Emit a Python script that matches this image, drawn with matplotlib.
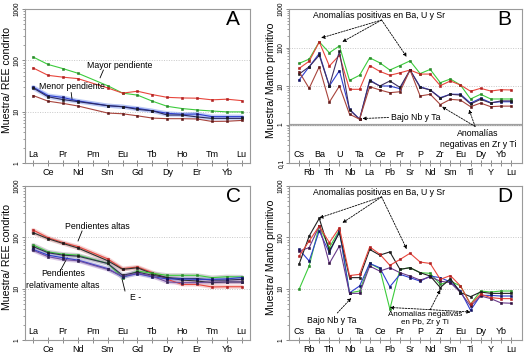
import matplotlib
matplotlib.use("Agg")
import matplotlib.pyplot as plt
from matplotlib.ticker import LogLocator, NullFormatter, FixedLocator
import numpy as np

plt.rcParams['font.family'] = ['Liberation Sans', 'DejaVu Sans']

# ---------------- data ----------------
ree = ["La", "Ce", "Pr", "Nd", "Pm", "Sm", "Eu", "Gd", "Tb", "Dy", "Ho", "Er", "Tm", "Yb", "Lu"]
spider = ["Cs", "Rb", "Ba", "Th", "U", "Nb", "Ta", "La", "Ce", "Pb", "Pr", "Sr", "P", "Nd",
          "Zr", "Sm", "Eu", "Ti", "Dy", "Y", "Yb", "Lu"]

# Panel A (REE, chondrite) - Pm has no value
A_green = [116, 83, 69, 56, None, 32, 23, 21, 16, 12.7, 11.5, 10.8, 10.3, 9.9, 9.9]
A_red = [71, 51, 47, 44, None, 29, 23, 25, 21.5, 19, 18.5, 18.3, 17, 17.5, 16.4]
A_blue = [30, 20.6, 18.9, 16.2, None, 13.1, 12.5, 11.6, 10.4, 9.3, 8.9, 9.0, 8.0, 8.0, 8.0]
A_black = [29, 19.5, 17.2, 15.7, None, 13.1, 12.5, 11.1, 10.4, 8.6, 8.6, 7.9, 7.4, 7.4, 7.4]
A_brown = [20.6, 16, 14.5, 12.9, None, 9.4, 9.1, 8.3, 7.5, 7.3, 7.3, 7.2, 6.45, 6.5, 6.75]

# Panel B (spider, primitive mantle)
B_green = [38.6, 50, 140, 73, 110, 14, 19, 54, 40, 26, 34, 45, 21, 27, 12.2, 15.2, 10.6, 4.6, 6.1, 4.6, 4.6, 4.6]
B_red = [28.6, 44, 140, 33, 63, 8.2, 8.2, 34, 24, 19, 22, 26, 20.4, 20.4, 10.2, 13.5, 10.6, 7.3, 8.7, 7.4, 8.0, 7.9]
B_blue = [14.3, 31.6, 70, 10, 25, 2.5, 1.37, 14.3, 10, 10, 8.5, 26, 9.6, 7.9, 5.0, 6.1, 6.1, 3.6, 4.8, 3.7, 3.9, 3.9]
B_black = [20.4, 31.6, 63, 10, 80, 2.4, 1.37, 13.7, 10, 13.5, 9.2, 26, 9.2, 7.9, 4.8, 6.1, 5.8, 3.4, 4.5, 3.6, 4.1, 4.1]
B_brown = [23.5, 8.7, 31.6, 3.8, 10, 1.85, 1.37, 9.6, 7.9, 6.7, 7.1, 26, 5.5, 6.1, 3.3, 4.5, 4.3, 2.9, 3.6, 2.9, 3.0, 3.0]

# Panel C (REE, chondrite)
C_red = [139, 98, 79, 66, None, 38, 24.5, 26.4, 20.5, 15.2, 12.1, 12.1, 10.8, 10.9, 10.9]
C_black1 = [123, 94, 76, 62, None, 35, 23.8, 25.5, 19.6, 16.4, 14.7, 14.1, 13.1, 13.5, 13.5]
C_green = [71, 52, 47, 45, None, 31, 16.4, 22, 19.9, 18.2, 18.2, 18.2, 16.4, 17.1, 16.9]
C_black2 = [66, 50, 45, 43, None, 31, 18.2, 21, 18.2, 16.4, 15.7, 15.7, 14.7, 14.7, 15.2]
C_blue = [58, 45, 40, 36, None, 24.5, 17, 19.6, 17, 15.5, 15.5, 15.2, 15.2, 15.5, 16.5]
C_purple = [56, 42, 37, 35, None, 23.8, 17.5, 20, 17.5, 13.5, 13.1, 13.1, 13.5, 13.5, 13.5]

# Panel D (spider, primitive mantle)
D_red = [43, 85, 166, 79, 154, 18, 19, 65, 47, 28.5, 37, 49, 33, 31, 15.2, 18, 11.3, 5.0, 7.8, 6.7, 6.4, 6.4]
D_black = [30, 106, 234, 54, 123, 16.4, 16.4, 58, 45, 52, 23.8, 25.6, 20.5, 17.6, 10.5, 15.7, 8.4, 7.0, 8.6, 8.1, 8.1, 8.1]
D_green = [9.7, 27.7, 166, 63, 139, 8.3, 9.0, 31, 24.5, 4.0, 23.8, 25.6, 20.5, 19.9, 12.1, 14, 11.3, 5.0, 9.0, 8.6, 9.0, 9.0]
D_blue = [58, 34.6, 133, 50, 133, 8.3, 11.3, 31, 25.6, 10.9, 19, 16.4, 14, 17.6, 16.4, 13.5, 9.0, 3.8, 7.4, 7.4, 7.2, 7.2]
D_purple = [54, 63, 166, 31, 68, 8.1, 8.1, 27.5, 22, 25.6, 20.5, 17.6, 14.7, 17, 14, 13.1, 8.4, 4.6, 7.2, 6.4, 5.3, 5.2]

GREEN = '#3ccc3c'
RED = '#e8463c'
BLUE = '#2f3fd0'
BLACK = '#1a1a1a'
BROWN = '#a8443c'
PURPLE = '#6a3a8a'


def series(ax, vals, color, mcolor=None, halo=None, lw=0.8):
    x = np.array([i for i, v in enumerate(vals) if v is not None])
    y = np.array([v for v in vals if v is not None], dtype=float)
    if halo:
        ax.plot(x, y, color=halo, lw=3.0, alpha=0.55, solid_capstyle='round', zorder=2)
    ax.plot(x, y, color=color, lw=lw, marker='s', markersize=1.6,
            markerfacecolor=mcolor or color, markeredgecolor=mcolor or color,
            markeredgewidth=0.4, zorder=3)


def setup(ax, labels, ymin, ymax, ylabel, letter, ytick_labels, lab_x):
    n = len(labels)
    ax.set_yscale('log')
    ax.set_ylim(ymin, ymax)
    ax.set_xlim(-0.55 if n == 15 else -1.0, n - 1 + (0.55 if n == 15 else 1.1))
    for s in ax.spines.values():
        s.set_color('#9a9a9a')
        s.set_linewidth(0.8)
    majors = [10.0 ** k for k in range(int(np.log10(ymin)), int(np.log10(ymax)) + 1)]
    ax.yaxis.set_major_locator(FixedLocator(majors))
    ax.set_yticklabels(ytick_labels, rotation=90, va='center', fontsize=4.8)
    ax.yaxis.set_minor_locator(LogLocator(base=10, subs=np.arange(2, 10)))
    ax.yaxis.set_minor_formatter(NullFormatter())
    ax.tick_params(axis='y', which='major', length=2.5, width=0.6, color='#777777', pad=0.8)
    ax.tick_params(axis='y', which='minor', length=1.5, width=0.5, color='#777777')
    for m in majors[1:-1]:
        ax.axhline(m, color='#c8c8c8', lw=0.7, ls=(0, (1, 1.5)), zorder=1)
    ax.set_xticks(range(n))
    ax.set_xticklabels([lab if i % 2 == 1 else '' for i, lab in enumerate(labels)], fontsize=6.5)
    ax.tick_params(axis='x', direction='inout', length=5, width=0.6, color='#777777', pad=1)
    tr = ax.get_xaxis_transform()
    for i, lab in enumerate(labels):
        if i % 2 == 0:
            ax.text(i, 0.028, lab, transform=tr, ha='center', va='bottom', fontsize=6.5)
    ax.set_ylabel(ylabel, fontsize=7.6)
    ax.yaxis.set_label_coords(lab_x, 0.54)
    ax.text(0.925, 0.93, letter, transform=ax.transAxes, ha='center', va='center', fontsize=15)


W, H = 529, 353
fig = plt.figure(figsize=(W / 100, H / 100), dpi=100)


def ax_at(l, r, t, b):
    return fig.add_axes([l / W, 1 - b / H, (r - l) / W, (b - t) / H])


axA = ax_at(25, 250, 9, 163)
axB = ax_at(289, 522, 9, 163)
axC = ax_at(25, 250, 186, 340)
axD = ax_at(289, 522, 186, 340)

# ---- Panel A ----
series(axA, A_green, GREEN, '#2a8a2a')
series(axA, A_red, RED, '#b02020')
series(axA, A_blue, BLUE, '#101060', halo='#8fa8f0')
series(axA, A_black, '#2a2a60', BLACK, halo='#a8b8f0')
series(axA, A_brown, BROWN, '#601818')
setup(axA, ree, 1, 1000, 'Muestra/ REE condrito', 'A', ['1', '10', '100', '1000'], -0.056)
axA.text(3.6, 80, 'Mayor pendiente', fontsize=6.3, ha='left', va='center')
axA.plot([4.71, 4.49], [64.5, 45.7], color='k', lw=0.6)
axA.text(0.4, 31, 'Menor pendiente', fontsize=6.3, ha='left', va='center')
axA.plot([2.55, 2.61], [23.5, 17.2], color='k', lw=0.6)

# ---- Panel B ----
axB.axhline(1, color='#a0a0a0', lw=1.6, zorder=1)
series(axB, B_green, GREEN, '#2a8a2a')
series(axB, B_red, RED, '#b02020')
series(axB, B_blue, BLUE, '#101060')
series(axB, B_black, '#403060', BLACK)
series(axB, B_brown, BROWN, '#601818')
setup(axB, spider, 0.1, 1000, 'Muestra/ Manto primitivo', 'B', ['0,1', '1', '10', '100', '1000'], -0.054)
ap = dict(arrowstyle='-|>', ls=(0, (2, 1.5)), lw=0.6, color='k', mutation_scale=5, shrinkA=0, shrinkB=0)
axB.text(7.93, 693, 'Anomalías positivas en Ba, U y Sr', fontsize=6.3, ha='center', va='center')
for tx, ty in [(2.19, 177), (4.29, 140), (10.67, 57)]:
    axB.annotate('', xy=(tx, ty), xytext=(8.18, 517), arrowprops=ap)
axB.text(9.07, 1.52, 'Bajo Nb y Ta', fontsize=6.3, ha='left', va='center')
axB.annotate('', xy=(6.28, 1.43), xytext=(8.87, 1.52), arrowprops=ap)
axB.text(17.75, 0.42, 'Anomalías\nnegativas en Zr y Ti', fontsize=6.3, ha='center', va='center',
         linespacing=1.3)
for tx, ty in [(14.16, 2.9), (16.85, 2.44)]:
    axB.annotate('', xy=(tx, ty), xytext=(17.45, 0.89), arrowprops=ap)

# ---- Panel C ----
series(axC, C_red, RED, '#b02020', halo='#f0b0b0')
series(axC, C_black1, '#303030', BLACK, halo='#d0a0a0')
series(axC, C_green, GREEN, '#2a8a2a', halo='#b0b0b0')
series(axC, C_black2, '#303050', BLACK, halo='#b0b0c0')
series(axC, C_blue, BLUE, '#101060', halo='#a0b0e0')
series(axC, C_purple, '#7050a0', '#302050', halo='#c0a0d0')
setup(axC, ree, 1, 1000, 'Muestra/ REE condrito', 'C', ['1', '10', '100', '1000'], -0.056)
axC.text(4.29, 160, 'Pendientes altas', fontsize=6.3, ha='center', va='center')
axC.plot([3.28, 3.01], [133, 85], color='k', lw=0.6)
axC.text(2.01, 15.1, 'Pendientes\nrelativamente altas', fontsize=6.3, ha='center', va='center',
         linespacing=1.3)
axC.plot([1.81, 2.28], [22.1, 39.7], color='k', lw=0.6)
axC.text(6.5, 6.6, 'E -', fontsize=6.3, ha='left', va='center')
axC.plot([6.16, 5.96], [9.0, 15.5], color='k', lw=0.6)

# ---- Panel D ----
series(axD, D_green, GREEN, '#2a8a2a')
series(axD, D_blue, BLUE, '#101060')
series(axD, D_purple, PURPLE, '#301040')
series(axD, D_black, '#202020', BLACK)
series(axD, D_red, RED, '#b02020')
setup(axD, spider, 1, 1000, 'Muestra/ Manto primitivo', 'D', ['1', '10', '100', '1000'], -0.054)
axD.text(7.93, 743, 'Anomalías positivas en Ba, U y Sr', fontsize=6.3, ha='center', va='center')
for tx, ty in [(2.0, 239), (4.29, 191), (10.67, 59)]:
    axD.annotate('', xy=(tx, ty), xytext=(8.18, 613), arrowprops=ap)
axD.text(3.19, 2.35, 'Bajo Nb y Ta', fontsize=6.3, ha='center', va='center')
axD.annotate('', xy=(5.18, 6.6), xytext=(3.79, 3.36), arrowprops=ap)
axD.text(12.46, 2.68, 'Anomalías negativas\nen Pb, Zr y Ti', fontsize=5.8, ha='center', va='center',
         linespacing=1.2)
for tx, ty in [(9.0, 4.3), (14.0, 9.5), (17.0, 3.5)]:
    axD.annotate('', xy=(tx, ty), xytext=(13.0, 3.9), arrowprops=ap)

fig.savefig('out.png', dpi=100)
